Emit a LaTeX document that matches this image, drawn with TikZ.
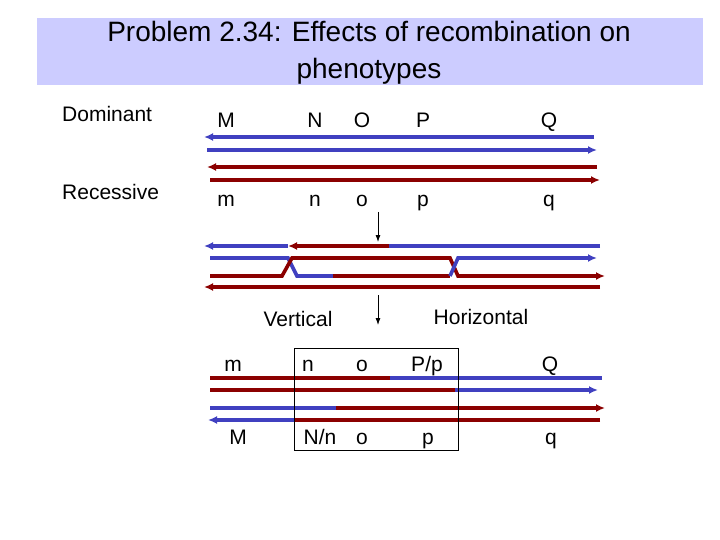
\documentclass[tikz,border=0pt]{standalone}
\usepackage{fontspec}
\setmainfont{Liberation Sans}
\usetikzlibrary{arrows.meta}
\definecolor{bl}{RGB}{64,64,192}
\definecolor{rd}{RGB}{139,0,0}
\definecolor{tb}{RGB}{204,204,255}
\begin{document}
\begin{tikzpicture}[x=1pt,y=-1pt,
  lbl/.style={font=\fontsize{21}{23}\selectfont,inner sep=0pt,anchor=base},
  ch/.style={line width=3.6pt},
  chb/.style={ch,draw=bl},
  chr/.style={ch,draw=rd},
  tip/.style={-{Latex[length=9pt,width=8pt]}}]
\useasboundingbox (0,0) rectangle (720,540);
\fill[tb] (37,18) rectangle (703,85);
\node[font=\fontsize{28}{37}\selectfont,align=center,inner sep=0pt] (title) at (369,53) {Problem 2.34: Effects of recombination on\\phenotypes};
\node[lbl,anchor=base west] (dom) at (62,122) {Dominant};
\node[lbl,anchor=base west] (rec) at (62,200) {Recessive};
\foreach \t/\x in {M/226,N/315,O/362,P/423,Q/549}{\node[lbl] (u\t) at (\x,128) {\t};}
\foreach \t/\x in {m/226,n/315,o/362,p/423,q/549}{\node[lbl] (l\t) at (\x,207) {\t};}
% top chromosomes
\draw[chb,tip] (594,137) -- (204,137);
\draw[chb,tip] (207,150) -- (597,150);
\draw[chr,tip] (597,167) -- (207,167);
\draw[chr,tip] (210,180) -- (600,180);
% arrows
\coordinate (a1) at (378,212); \coordinate (a2) at (378,242);
\draw[-{Latex[length=7pt,width=5pt]},thick] (a1) -- (a2);
\coordinate (b1) at (378,295); \coordinate (b2) at (378,325);
\draw[-{Latex[length=7pt,width=5pt]},thick] (b1) -- (b2);
% recombinant group
\draw[chb] (600,246) -- (389,246);
\draw[chr,tip] (389,246) -- (288,246);
\draw[chb,tip] (288,246) -- (204,246);
\draw[chb] (210,258) -- (288,258) -- (297,276) -- (333,276);
\draw[chr] (333,276) -- (450,276);
\draw[chr] (210,276) -- (282,276) -- (292,258) -- (450,258) -- (458,276) -- (462,276);
\draw[chr,tip] (460,276) -- (605,276);
\draw[chb] (450,276) -- (458,258) -- (462,258);
\draw[chb,tip] (460,258) -- (597,258);
\draw[chr,tip] (600,287) -- (204,287);
\node[lbl] (vert) at (298,326) {Vertical};
\node[lbl] (hor) at (481,324) {Horizontal};
% bottom group
\draw[chr] (210,378) -- (390,378);
\draw[chb] (390,378) -- (602,378);
\draw[chr] (210,390) -- (455,390);
\draw[chb,tip] (455,390) -- (598,390);
\draw[chb] (210,408) -- (336,408);
\draw[chr,tip] (336,408) -- (605,408);
\draw[chr] (600,420) -- (294,420);
\draw[chb,tip] (294,420) -- (208,420);
\draw[thin] (294,348) rectangle (458,450);
\foreach \n/\t/\x in {bm/m/233,bn/n/308,bo/o/362,bP/P\slash p/427,bQ/Q/550}{\node[lbl] (\n) at (\x,371) {\t};}
\foreach \n/\t/\x in {cM/M/238,cN/N\slash n/320,co/o/362,cp/p/428,cq/q/551}{\node[lbl] (\n) at (\x,444) {\t};}
\end{tikzpicture}
\end{document}
